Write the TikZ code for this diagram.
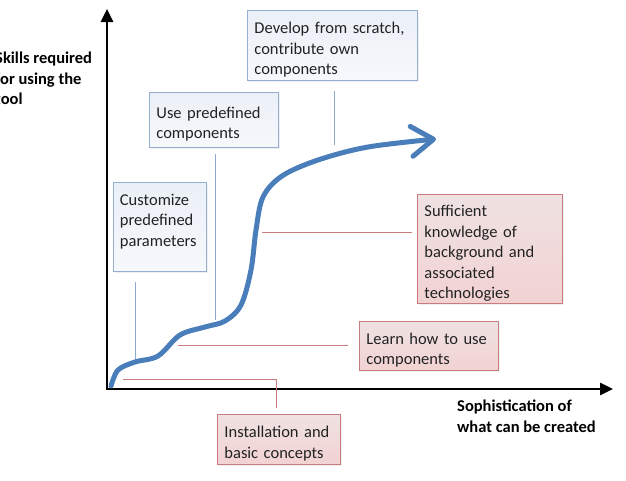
\documentclass[tikz,border=0pt]{standalone}
\usepackage{fontspec}
\setmainfont{Carlito}
\usetikzlibrary{arrows.meta,shadows}
\definecolor{bbord}{HTML}{95AFD2}
\definecolor{btop}{HTML}{EBF0F7}
\definecolor{bbot}{HTML}{F6F8FC}
\definecolor{rbord}{HTML}{C97C7E}
\definecolor{rtop}{HTML}{EFE2E2}
\definecolor{rbot}{HTML}{F2D2D3}
\definecolor{curveblue}{HTML}{4A7EBB}
\definecolor{bline}{HTML}{8DA9CF}
\definecolor{rline}{HTML}{CC7C7C}
\definecolor{txt}{HTML}{222222}
\newcommand\boxfont{\fontsize{16.5}{20.5}\selectfont}
\begin{document}
\begin{tikzpicture}[x=1pt,y=-1pt,
  ax/.style={line width=2.6pt,-{Triangle[length=13pt,width=12pt]}},
  abox/.style={line width=0.9pt, align=left, inner xsep=7pt, inner ysep=0pt,
     anchor=north west, font=\boxfont, text=txt,
     execute at begin node={\rule{0pt}{20pt}},
     drop shadow={opacity=0.12, shadow xshift=1.2pt, shadow yshift=-1.2pt}},
  bbox/.style={abox, draw=bbord, top color=btop, bottom color=bbot},
  rbox/.style={abox, draw=rbord, top color=rtop, bottom color=rbot},
  bconn/.style={draw=bline, line width=1pt},
  rconn/.style={draw=rline, line width=1pt},
  axlabel/.style={font=\bfseries\boxfont, align=left, inner sep=0pt, anchor=north west, text=black}
]
\useasboundingbox (0,0) rectangle (626,480);

% axes
\coordinate (o) at (107,389);
\coordinate (ytop) at (107,9);
\coordinate (xend) at (613,389);
\draw[ax] ([yshift=1.3pt]o) -- (ytop);
\draw[ax] ([xshift=-1.3pt]o) -- (xend);

\node[axlabel] (ylab) at (-5,52) {Skills required\\for using the\\tool};
\node[axlabel] (xlab) at (457,400) {Sophistication of\\what can be created};

% boxes
\node[bbox, text width=156pt, minimum height=70pt] (dev) at (247,10) {Develop from scratch,\\contribute own\\components};
\node[bbox, text width=115pt, minimum height=55pt] (use) at (149,92) {Use predefined\\components};
\node[bbox, text width=80pt, minimum height=89pt, inner xsep=6.5pt] (cust) at (113,182) {Customize\\predefined\\parameters\vspace{20pt}};
\node[rbox, text width=131pt, minimum height=109pt] (suff) at (417,194) {Sufficient\\knowledge of\\background and\\associated\\technologies};
\node[rbox, text width=125pt, minimum height=49pt] (learn) at (359,321) {Learn how to use\\components};
\node[rbox, text width=109pt, minimum height=50pt] (inst) at (217,414) {Installation and\\basic concepts};

% connector end points on the curve
\coordinate (cdev) at (334,145);
\coordinate (cuse) at (215,320);
\coordinate (ccust) at (135,360);
\coordinate (csuff) at (262,232);
\coordinate (clearn) at (178,345);
\coordinate (cinst) at (123,379);

\draw[bconn, shorten <=10pt] (dev.south -| cdev) -- (cdev);
\draw[bconn, shorten <=6pt] (use.south -| cuse) -- (cuse);
\draw[bconn, shorten <=10pt] (cust.south -| ccust) -- (ccust);
\draw[rconn, shorten <=5pt] (suff.west |- csuff) -- (csuff);
\draw[rconn, shorten <=11pt] (learn.west |- clearn) -- (clearn);
\draw[rconn, shorten >=6pt] (cinst) -| ([xshift=-2.5pt]inst.north);

% growth curve
\draw[draw=curveblue, line width=5pt, line cap=round,
      -{Straight Barb[length=22pt,width=30pt,round]}]
  plot[smooth, tension=0.55] coordinates {(111,386) (118,370) (135,362) (158,356) (180,335) (205,327) (225,321) (241,305) (251,270) (256,230) (263,197) (282,176) (318,160) (368,147) (436,139)};
\end{tikzpicture}
\end{document}
